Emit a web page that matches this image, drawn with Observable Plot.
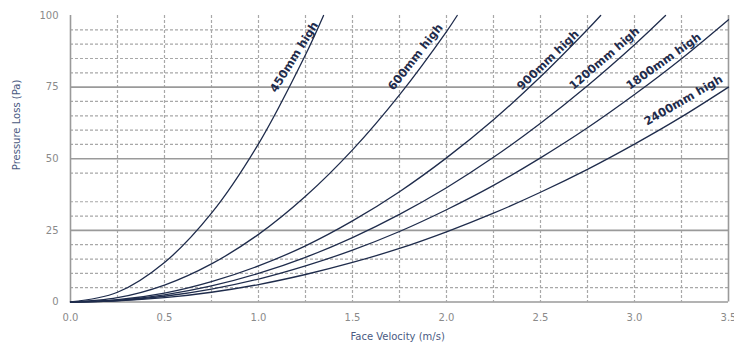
<!DOCTYPE html>
<html>
<head>
<meta charset="utf-8">
<script src="https://cdn.jsdelivr.net/npm/d3@7"></script>
<script src="https://cdn.jsdelivr.net/npm/@observablehq/plot@0.6"></script>
<style>
  html, body { margin: 0; padding: 0; background: #fff; }
  #chart { width: 734px; height: 354px; }
</style>
</head>
<body>
<div id="chart"></div>
<script>
// Series: face velocity (m/s) -> pressure loss (Pa)
const series = ["450mm high", "600mm high", "900mm high", "1200mm high", "1800mm high", "2400mm high"];

const v450 = [0, 0.25, 0.5, 0.75, 1.0, 1.25, 1.346];
const p450 = [0, 3.4, 13.8, 31.0, 55.2, 86.3, 100];

const v600 = [0, 0.25, 0.5, 0.75, 1.0, 1.25, 1.5, 1.75, 2.0, 2.057];
const p600 = [0, 1.5, 5.9, 13.3, 23.6, 36.9, 53.1, 72.3, 94.4, 100];

const v900 = [0, 0.25, 0.5, 0.75, 1.0, 1.25, 1.5, 1.75, 2.0, 2.25, 2.5, 2.75, 2.82];
const p900 = [0, 0.8, 3.1, 7.1, 12.6, 19.6, 28.3, 38.5, 50.3, 63.6, 78.6, 95.1, 100];

const v1200 = [0, 0.25, 0.5, 0.75, 1.0, 1.25, 1.5, 1.75, 2.0, 2.25, 2.5, 2.75, 3.0, 3.165];
const p1200 = [0, 0.6, 2.5, 5.6, 10.0, 15.6, 22.5, 30.6, 39.9, 50.5, 62.4, 75.5, 89.8, 100];

const v1800 = [0, 0.25, 0.5, 0.75, 1.0, 1.25, 1.5, 1.75, 2.0, 2.25, 2.5, 2.75, 3.0, 3.25, 3.5];
const p1800 = [0, 0.5, 2.0, 4.5, 8.0, 12.6, 18.1, 24.6, 32.2, 40.7, 50.3, 60.8, 72.4, 84.9, 98.5];

const v2400 = [0, 0.25, 0.5, 0.75, 1.0, 1.25, 1.5, 1.75, 2.0, 2.25, 2.5, 2.75, 3.0, 3.25, 3.5];
const p2400 = [0, 0.4, 1.5, 3.4, 6.1, 9.6, 13.8, 18.7, 24.5, 31.0, 38.3, 46.3, 55.1, 64.6, 75.0];

// Label anchors (velocity, pressure) and slope angle
const labelV = [1.19, 1.835, 2.54, 2.84, 3.155, 3.26];
const labelP = [85.5, 85.5, 84.4, 85, 84, 70.4];
const labelAngle = [-58, -52, -44, -41, -35.5, -30];

// Tick values
const xTicks = [0, 0.5, 1.0, 1.5, 2.0, 2.5, 3.0, 3.5];
const yTicks = [0, 25, 50, 75, 100];
const xMinor = [0.25, 0.5, 0.75, 1.0, 1.25, 1.5, 1.75, 2.0, 2.25, 2.5, 2.75, 3.0, 3.25];
const xFrame = [0, 3.5];
const yMajor = [0, 25, 50, 75];
const yMinor = [5, 10, 15, 20, 30, 35, 45, 55, 60, 65, 70, 80, 85, 90, 95];

const vs = [v450, v600, v900, v1200, v1800, v2400];
const ps = [p450, p600, p900, p1200, p1800, p2400];
const rows = series.flatMap((s, i) => vs[i].map((v, j) => ({series: s, v, p: ps[i][j]})));
const labels = series.map((s, i) => ({text: s, v: labelV[i], p: labelP[i], a: labelAngle[i]}));

const font = "'DejaVu Sans', sans-serif";
const navy = "#1f2c4c";

const chart = Plot.plot({
  width: 734,
  height: 354,
  marginLeft: 70,
  marginRight: 6,
  marginTop: 15,
  marginBottom: 52.5,
  style: {fontFamily: font, background: "#fff", overflow: "visible"},
  x: {domain: [0, 3.5], ticks: xTicks, tickFormat: d3.format(".1f")},
  y: {domain: [0, 100], ticks: yTicks},
  marks: [
    Plot.ruleY(yMinor, {stroke: "#a8a8a8", strokeWidth: 1.2, strokeDasharray: "3,2"}),
    Plot.ruleX(xMinor, {stroke: "#a8a8a8", strokeWidth: 1.2, strokeDasharray: "3,2"}),
    Plot.ruleY(yMajor, {stroke: "#9a9a9a", strokeWidth: 1.6}),
    Plot.ruleX(xFrame, {stroke: "#9a9a9a", strokeWidth: 1.6}),
    Plot.axisX({ticks: xTicks, tickFormat: d3.format(".1f"), tickSize: 0, tickPadding: 12, fill: "#8a8a8a", fontSize: 10, label: null}),
    Plot.axisY({ticks: yTicks, tickSize: 0, tickPadding: 12, fill: "#8a8a8a", fontSize: 10, label: null}),
    Plot.line(rows, {x: "v", y: "p", z: "series", stroke: navy, strokeWidth: 1.3, curve: "catmull-rom"}),
    Plot.text(labels, {x: "v", y: "p", text: "text", rotate: "a", fill: navy, fontSize: 11.5, fontWeight: 600}),
    Plot.text(["Pressure Loss (Pa)"], {y: [46], frameAnchor: "left", dx: -54, rotate: -90, text: d => d, fill: "#4a5a82", fontSize: 10}),
    Plot.text(["Face Velocity (m/s)"], {x: [1.74], frameAnchor: "bottom", dy: 38, text: d => d, fill: "#4a5a82", fontSize: 10})
  ]
});
document.getElementById("chart").appendChild(chart);
</script>
</body>
</html>
